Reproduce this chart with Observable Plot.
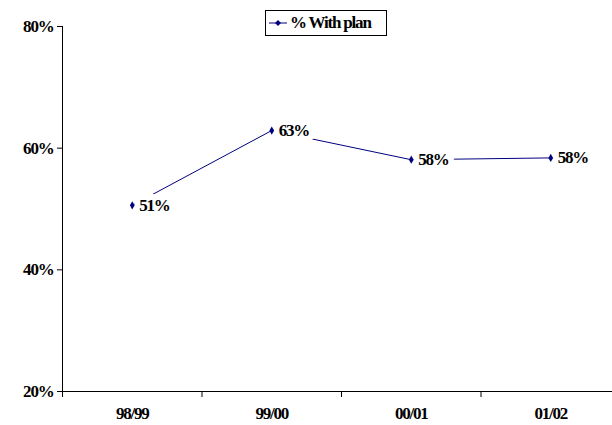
<!DOCTYPE html>
<html>
<head>
<meta charset="utf-8">
<script src="https://cdn.jsdelivr.net/npm/d3@7"></script>
<script src="https://cdn.jsdelivr.net/npm/@observablehq/plot@0.6"></script>
<style>
  html, body { margin: 0; padding: 0; background: #fff; }
  #wrap { position: relative; width: 612px; height: 425px; overflow: hidden; }
  #legend {
    position: absolute; left: 265px; top: 10px; width: 120px; height: 24px;
    border: 1px solid #000; background: #fff; box-sizing: content-box;
    font-family: "Liberation Serif", "Times New Roman", serif; font-weight: bold;
    font-size: 17px; letter-spacing: -1.2px; line-height: 24px; white-space: nowrap;
  }
  #legend svg { position: absolute; left: 3px; top: 7px; }
  #legend span { position: absolute; left: 24px; top: 0px; }
</style>
</head>
<body>
<div id="wrap"></div>
<script>
const categories = ["98/99", "99/00", "00/01", "01/02"];
const values = [50.6, 62.9, 58.1, 58.4];
const labels = ["51%", "63%", "58%", "58%"];
const yTicks = [20, 40, 60, 80];
const seriesName = "% With plan";
const color = "#000080";

const data = categories.map((c, i) => ({cat: c, pos: i + 0.5, value: values[i], label: labels[i]}));

const font = '"Liberation Serif", "Times New Roman", serif';

const chart = Plot.plot({
  width: 612,
  height: 425,
  marginLeft: 62,
  marginRight: 0,
  marginTop: 26,
  marginBottom: 34,
  style: {fontFamily: font, fontWeight: "bold", fontSize: "17px", letterSpacing: "-1.2px", background: "white", color: "black"},
  x: {domain: [0, 4], range: [62, 620]},
  y: {domain: [20, 80]},
  marks: [
    Plot.ruleY([20], {stroke: "black", strokeWidth: 1}),
    Plot.ruleX([0], {stroke: "black", strokeWidth: 1}),
    Plot.axisY({ticks: yTicks, tickFormat: d => d + "%", tickSize: 5, tickPadding: 4, label: null, stroke: "black"}),
    Plot.axisX({ticks: [0, 1, 2, 3], tickSize: 6, tickFormat: () => "", label: null, stroke: "black"}),
    Plot.axisX({ticks: data.map(d => d.pos), tickSize: 0, tickPadding: 15, tickFormat: p => categories[Math.floor(p)], label: null}),
    Plot.line(data, {x: "pos", y: "value", stroke: color, strokeWidth: 1}),
    Plot.text(data, {x: "pos", y: "value", text: "label", textAnchor: "start", dx: 7, fill: "black", stroke: "white", strokeWidth: 12, paintOrder: "stroke"}),
    Plot.dot(data, {x: "pos", y: "value", symbol: "diamond", r: 2.5, fill: color, stroke: "none"})
  ]
});

const wrap = document.getElementById("wrap");
wrap.appendChild(chart);

const legend = document.createElement("div");
legend.id = "legend";
legend.innerHTML = `<svg width="20" height="10"><line x1="0" y1="5" x2="18" y2="5" stroke="${color}" stroke-width="1"/><path d="M9,2 L12,5 L9,8 L6,5 Z" fill="${color}"/></svg><span></span>`;
legend.querySelector("span").textContent = seriesName;
wrap.appendChild(legend);
</script>
</body>
</html>
